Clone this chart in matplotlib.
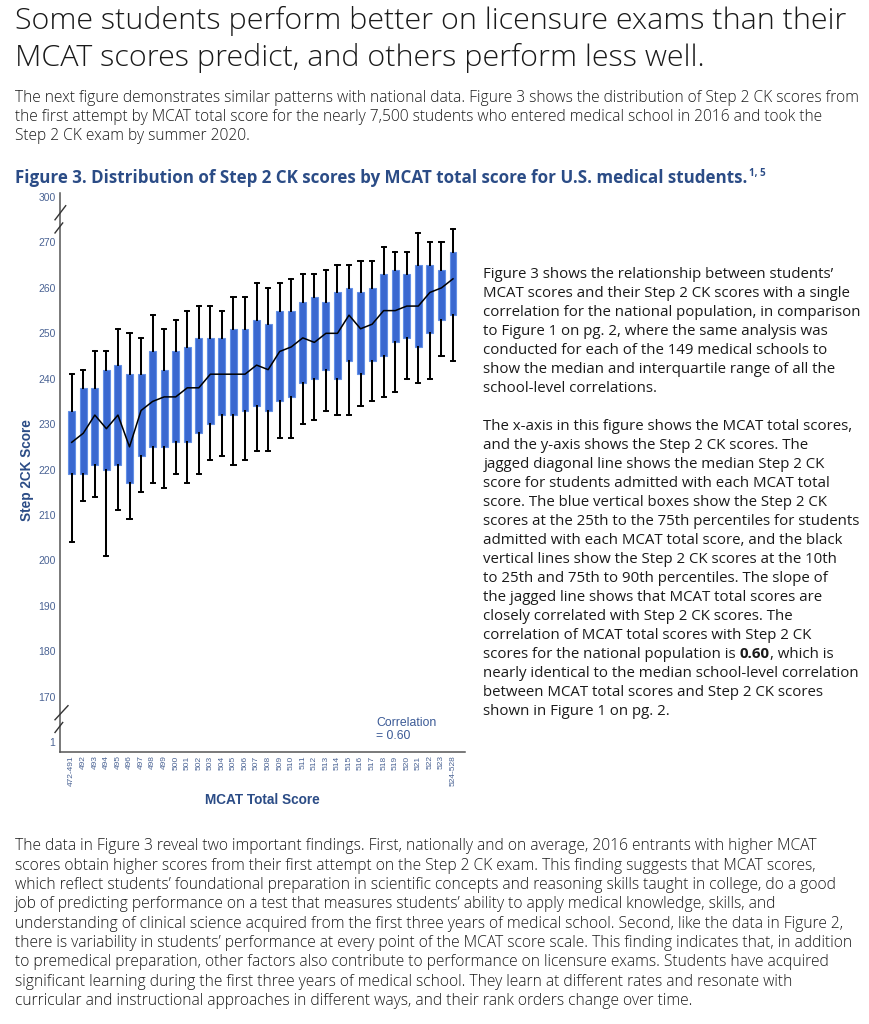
import matplotlib
matplotlib.use('Agg')
import matplotlib.pyplot as plt
from matplotlib import font_manager
from matplotlib.transforms import blended_transform_factory
import numpy as np

# ---------------- data ----------------
categories = ['472-491', '492', '493', '494', '495', '496', '497', '498', '499', '500',
              '501', '502', '503', '504', '505', '506', '507', '508', '509', '510',
              '511', '512', '513', '514', '515', '516', '517', '518', '519', '520',
              '521', '522', '523', '524-528']
p90 = [241, 242, 246, 246, 251, 250, 249, 254, 251, 253, 255, 256, 256, 255, 258, 258, 261,
       260, 261, 262, 263, 263, 264, 265, 265, 266, 266, 269, 268, 268, 272, 270, 270, 273]
p75 = [233, 238, 238, 242, 243, 241, 241, 246, 242, 246, 247, 249, 249, 249, 251, 251, 253,
       252, 255, 255, 257, 258, 257, 259, 260, 259, 260, 263, 264, 263, 265, 265, 264, 268]
median = [226, 228, 232, 229, 232, 225, 233, 235, 236, 236, 238, 238, 241, 241, 241, 241, 243,
          242, 246, 247, 249, 248, 250, 250, 254, 251, 252, 255, 255, 256, 256, 259, 260, 262]
p25 = [219, 219, 221, 220, 221, 217, 223, 225, 225, 226, 226, 228, 230, 232, 232, 233, 234,
       233, 235, 236, 239, 240, 242, 240, 244, 241, 244, 245, 248, 249, 247, 250, 253, 254]
p10 = [204, 213, 214, 201, 211, 209, 215, 217, 216, 219, 217, 219, 222, 223, 221, 222, 224,
       224, 227, 227, 230, 231, 233, 232, 232, 234, 235, 236, 237, 240, 239, 240, 245, 244]

# broken y axis: '1' and '300' are placed one step beyond 170 and 270
ytick_pos = [160, 170, 180, 190, 200, 210, 220, 230, 240, 250, 260, 270, 280]
ytick_labels = ['1', '170', '180', '190', '200', '210', '220', '230', '240', '250', '260', '270', '300']
correlation = '0.60'

title_lines = ["Some students perform better on licensure exams than their",
               "MCAT scores predict, and others perform less well."]
intro_lines = ["The next figure demonstrates similar patterns with national data. Figure 3 shows the distribution of Step 2 CK scores from",
               "the first attempt by MCAT total score for the nearly 7,500 students who entered medical school in 2016 and took the",
               "Step 2 CK exam by summer 2020."]
caption = "Figure 3. Distribution of Step 2 CK scores by MCAT total score for U.S. medical students."
caption_sup = "1, 5"
side_lines = ["Figure 3 shows the relationship between students\u2019",
              "MCAT scores and their Step 2 CK scores with a single",
              "correlation for the national population, in comparison",
              "to Figure 1 on pg. 2, where the same analysis was",
              "conducted for each of the 149 medical schools to",
              "show the median and interquartile range of all the",
              "school-level correlations.",
              "",
              "The x-axis in this figure shows the MCAT total scores,",
              "and the y-axis shows the Step 2 CK scores. The",
              "jagged diagonal line shows the median Step 2 CK",
              "score for students admitted with each MCAT total",
              "score. The blue vertical boxes show the Step 2 CK",
              "scores at the 25th to the 75th percentiles for students",
              "admitted with each MCAT total score, and the black",
              "vertical lines show the Step 2 CK scores at the 10th",
              "to 25th and 75th to 90th percentiles. The slope of",
              "the jagged line shows that MCAT total scores are",
              "closely correlated with Step 2 CK scores. The",
              "correlation of MCAT total scores with Step 2 CK",
              ["scores for the national population is ", "0.60", ", which is"],
              "nearly identical to the median school-level correlation",
              "between MCAT total scores and Step 2 CK scores",
              "shown in Figure 1 on pg. 2."]
bottom_lines = ["The data in Figure 3 reveal two important findings. First, nationally and on average, 2016 entrants with higher MCAT",
                "scores obtain higher scores from their first attempt on the Step 2 CK exam. This finding suggests that MCAT scores,",
                "which reflect students\u2019 foundational preparation in scientific concepts and reasoning skills taught in college, do a good",
                "job of predicting performance on a test that measures students\u2019 ability to apply medical knowledge, skills, and",
                "understanding of clinical science acquired from the first three years of medical school. Second, like the data in Figure 2,",
                "there is variability in students\u2019 performance at every point of the MCAT score scale. This finding indicates that, in addition",
                "to premedical preparation, other factors also contribute to performance on licensure exams. Students have acquired",
                "significant learning during the first three years of medical school. They learn at different rates and resonate with",
                "curricular and instructional approaches in different ways, and their rank orders change over time."]

# ---------------- fonts / colours ----------------
names = {f.name for f in font_manager.fontManager.ttflist}
BODY = 'Open Sans' if 'Open Sans' in names else 'DejaVu Sans'
CHART = 'Liberation Sans' if 'Liberation Sans' in names else 'DejaVu Sans'
NAVY = '#2b4c86'
TICK = '#4a6394'
TEXT = '#1a1a1a'
BOX = '#3a68d0'
BOX_EDGE = '#6390e6'

W, H = 869, 1024
fig = plt.figure(figsize=(W / 100, H / 100), dpi=100)
renderer = fig.canvas.get_renderer()


def fx(px):
    return px / W


def fy(py):
    return 1 - py / H


def text_width(s, size, **kw):
    t = fig.text(0, 0, s, fontsize=size, **kw)
    w = t.get_window_extent(renderer).width
    t.remove()
    return w


def fit_size(s, target_w, **kw):
    return 10 * target_w / text_width(s, 10, **kw)


# ---------------- chart ----------------
L, R, B, T = 60.3, 465.0, 752.0, 193.0
YLO, YHI = 157.8, 280.9
ax = fig.add_axes([fx(L), fy(B), fx(R) - fx(L), fy(T) - fy(B)])
pos = np.arange(len(categories))
stats = [dict(whislo=p10[i], q1=p25[i], med=median[i], q3=p75[i], whishi=p90[i],
              fliers=[], label=categories[i]) for i in range(len(categories))]
ax.bxp(stats, positions=pos, widths=0.6, patch_artist=True, showfliers=False,
       capwidths=0.36,
       boxprops=dict(facecolor=BOX, edgecolor=BOX_EDGE, linewidth=0.8),
       whiskerprops=dict(color='black', linewidth=1.45),
       capprops=dict(color='black', linewidth=1.4),
       medianprops=dict(visible=False))
ax.plot(pos, median, color='black', linewidth=1.1, zorder=6)

ax.set_xlim(-0.99, 34.04)
ax.set_ylim(YLO, YHI)
ax.set_yticks(ytick_pos)
ax.set_yticklabels(ytick_labels, family=CHART, fontsize=7.5, color=TICK)
ax.set_xticks(pos)
ax.set_xticklabels(categories, family=CHART, fontsize=6.0, color=TICK, rotation=90)
ax.tick_params(axis='both', length=0)
ax.tick_params(axis='y', pad=3.5)
ax.tick_params(axis='x', pad=2.5)
for s in ('top', 'right'):
    ax.spines[s].set_visible(False)
for s in ('left', 'bottom'):
    ax.spines[s].set_color('#555555')
    ax.spines[s].set_linewidth(1.1)

# axis break marks
tr = blended_transform_factory(ax.transAxes, ax.transData)
aw = R - L


def axx(px):
    return (px - L) / aw


def ydat(py):
    return YHI - (py - T) / ((B - T) / (YHI - YLO))


for (x0, y0, x1, y1) in [(55, 275.0, 65.7, 278.1), (55, 272.1, 62.7, 274.3),
                         (55, 164.9, 68.0, 168.0), (55, 162.1, 62.7, 164.3)]:
    ax.plot([axx(x0), axx(x1)], [y0, y1], transform=tr, color='#333333',
            linewidth=1.0, clip_on=False, zorder=7)

ax.text(axx(376), ydat(723.3), 'Correlation', transform=tr, family=CHART, fontsize=8.8,
        color='#3b5a96', va='center', ha='left')
ax.text(axx(376), ydat(735.7), '= ' + correlation, transform=tr, family=CHART, fontsize=8.8,
        color='#3b5a96', va='center', ha='left')

fig.text(fx(262.5), fy(800), 'MCAT Total Score', family=CHART, weight='bold', fontsize=9.8,
         color=NAVY, ha='center', va='center')
fig.text(fx(26.7), fy(470), 'Step 2CK Score', family=CHART, weight='bold', fontsize=9.8,
         color=NAVY, ha='center', va='center', rotation=90)

# ---------------- page text ----------------
ts = fit_size(title_lines[0], 830, family=BODY, weight='light')
for i, line in enumerate(title_lines):
    fig.text(fx(15), fy([28.5, 65.7][i]), line, family=BODY, weight='light', fontsize=ts,
             color=TEXT, va='baseline', ha='left')

ps = fit_size(intro_lines[0], 843, family=BODY, weight='light')
for i, line in enumerate(intro_lines):
    fig.text(fx(15), fy(101.7 + 19.0 * i), line, family=BODY, weight='light', fontsize=ps,
             color=TEXT, va='baseline', ha='left')

cs = fit_size(caption, 737, family=BODY, weight='bold')
fig.text(fx(15), fy(182.7), caption, family=BODY, weight='bold', fontsize=cs, color=NAVY,
         va='baseline', ha='left')
cw = text_width(caption, cs, family=BODY, weight='bold')
fig.text(fx(15 + cw + 2), fy(182.7 - 7), caption_sup, family=BODY, weight='bold',
         fontsize=cs * 0.58, color=NAVY, va='baseline', ha='left')

ss = fit_size(side_lines[13], 374.7, family=BODY)
for i, line in enumerate(side_lines):
    yb = fy(277.7 + 19.0 * i)
    if isinstance(line, list):
        xcur = 483.3
        for j, part in enumerate(line):
            wgt = 'bold' if j == 1 else 'normal'
            fig.text(fx(xcur), yb, part, family=BODY, weight=wgt, fontsize=ss, color=TEXT,
                     va='baseline', ha='left')
            xcur += text_width(part, ss, family=BODY, weight=wgt)
    elif line:
        fig.text(fx(483.3), yb, line, family=BODY, fontsize=ss, color=TEXT,
                 va='baseline', ha='left')

bs = fit_size(bottom_lines[5], 840, family=BODY, weight='light')
for i, line in enumerate(bottom_lines):
    fig.text(fx(15), fy(850.5 + 19.3 * i), line, family=BODY, weight='light', fontsize=bs,
             color=TEXT, va='baseline', ha='left')

fig.savefig('out.png', dpi=100, facecolor='white')
